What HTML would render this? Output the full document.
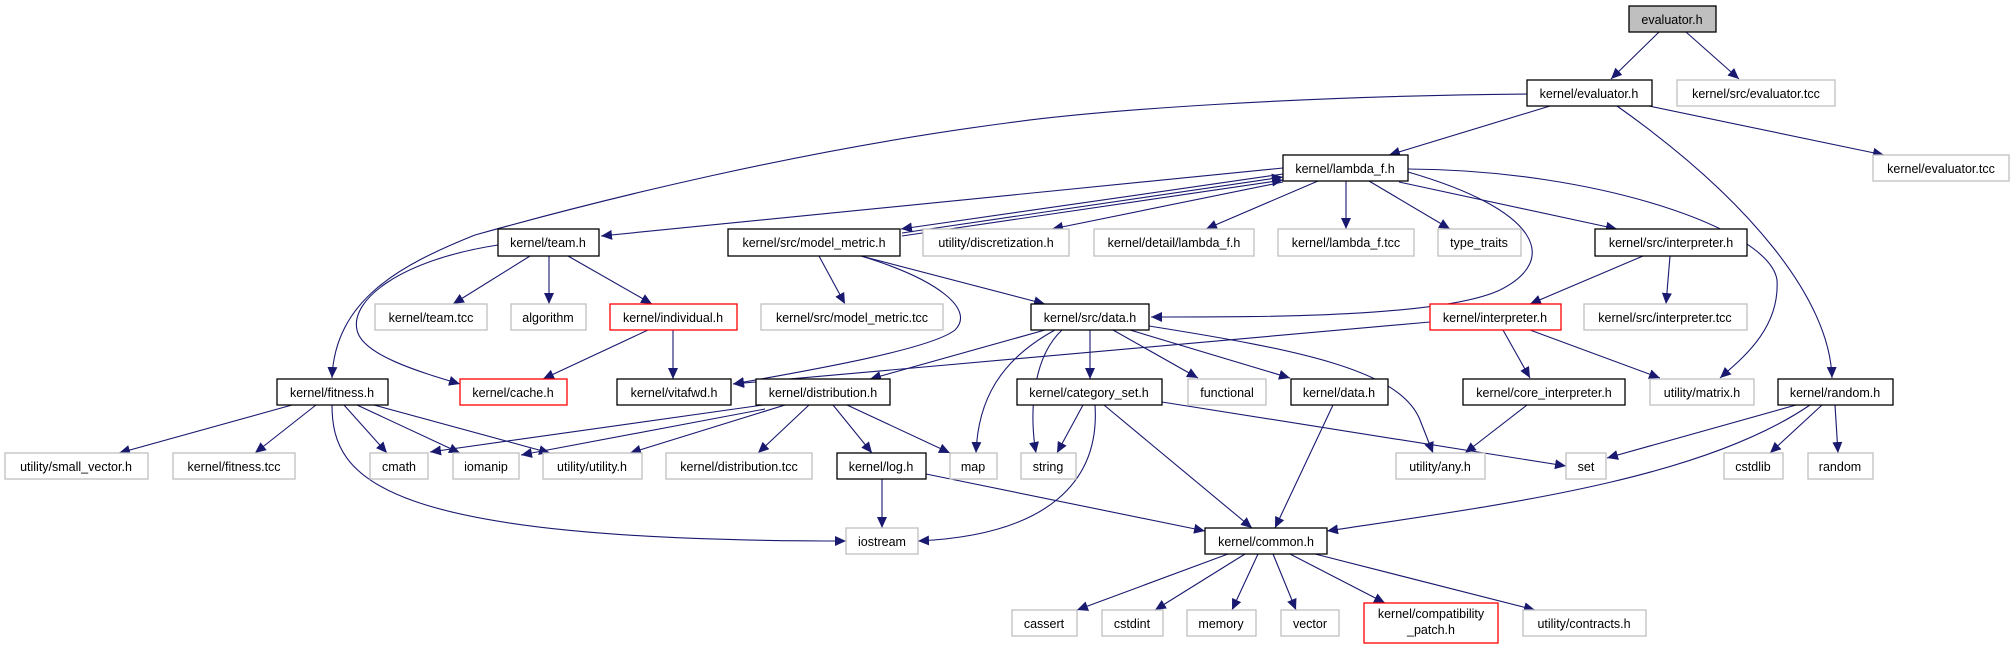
<!DOCTYPE html>
<html><head><meta charset="utf-8"><style>
html,body{margin:0;padding:0;background:#fff;}
svg{display:block;}
text{font-family:"Liberation Sans",sans-serif;font-size:12.5px;fill:#000;text-anchor:middle;}
.b{fill:#fff;stroke:#000;stroke-width:1.3;}
.g{fill:#fff;stroke:#bfbfbf;stroke-width:1.3;}
.r{fill:#fff;stroke:#ff0000;stroke-width:1.3;}
.e{fill:none;stroke:#191970;stroke-width:1.1;marker-end:url(#a);}
</style></head><body>
<svg width="2014" height="649" viewBox="0 0 2014 649" xmlns="http://www.w3.org/2000/svg">
<defs><marker id="a" markerUnits="userSpaceOnUse" markerWidth="12" markerHeight="10" refX="11" refY="5" orient="auto"><path d="M0,0 L11,5 L0,10 z" fill="#191970"/></marker></defs>

<path class="e" d="M1659,32 L1611,79"/>
<path class="e" d="M1686,32 L1739,79"/>
<path class="e" d="M1550,106 L1389,155"/>
<path class="e" d="M1649,106 L1884,155"/>
<path class="e" d="M1617,106 C1750,200 1830,300 1832,378"/>
<path class="e" d="M1527,94 C1300,96 1100,110 1007,123 C800,150 600,200 475,235 C400,265 335,300 332,378"/>
<path class="e" d="M1283,168 L601,236"/>
<path class="e" d="M1283,174 L901,229"/>
<path class="e" d="M902,233 L1283,177"/>
<path class="e" d="M902,236 L1283,180"/>
<path class="e" d="M1283,182 L1052,229"/>
<path class="e" d="M1318,181 L1206,229"/>
<path class="e" d="M1346,181 L1346,229"/>
<path class="e" d="M1369,181 L1450,229"/>
<path class="e" d="M1399,182 L1617,229"/>
<path class="e" d="M1408,172 C1540,210 1560,260 1500,290 C1440,318 1250,317 1151,317"/>
<path class="e" d="M1408,169 C1600,170 1770,230 1777,280 C1780,330 1740,360 1720,378"/>
<path class="e" d="M530,256 L453,304"/>
<path class="e" d="M549,256 L549,304"/>
<path class="e" d="M568,256 L652,304"/>
<path class="e" d="M498,245 C400,260 350,300 357,330 C362,355 420,372 460,384"/>
<path class="e" d="M648,330 L543,379"/>
<path class="e" d="M673,330 L673,379"/>
<path class="e" d="M819,256 L845,304"/>
<path class="e" d="M861,256 L1045,304"/>
<path class="e" d="M861,256 C940,280 975,310 955,330 C930,350 800,372 733,384"/>
<path class="e" d="M1643,256 L1530,304"/>
<path class="e" d="M1670,256 L1666,304"/>
<path class="e" d="M1045,330 L870,379"/>
<path class="e" d="M1055,330 C1000,360 978,400 976,453"/>
<path class="e" d="M1062,330 C1030,360 1030,420 1036,453"/>
<path class="e" d="M1090,330 L1090,379"/>
<path class="e" d="M1113,330 L1198,378"/>
<path class="e" d="M1130,330 L1290,378"/>
<path class="e" d="M1149,326 C1300,350 1400,370 1420,420 L1433,453"/>
<path class="e" d="M1430,322 L733,384"/>
<path class="e" d="M1503,330 L1530,378"/>
<path class="e" d="M1530,330 L1660,378"/>
<path class="e" d="M292,405 L119,453"/>
<path class="e" d="M316,405 L255,453"/>
<path class="e" d="M344,405 L387,453"/>
<path class="e" d="M357,405 L460,453"/>
<path class="e" d="M374,405 L550,453"/>
<path class="e" d="M332,405 C332,480 380,541 846,541"/>
<path class="e" d="M763,405 L430,452"/>
<path class="e" d="M765,409 L521,455"/>
<path class="e" d="M785,405 L630,453"/>
<path class="e" d="M809,405 L758,453"/>
<path class="e" d="M833,405 L872,453"/>
<path class="e" d="M847,405 L950,453"/>
<path class="e" d="M882,479 L882,528"/>
<path class="e" d="M926,474 L1205,531"/>
<path class="e" d="M1083,405 L1057,453"/>
<path class="e" d="M1095,405 C1100,480 1050,535 918,541"/>
<path class="e" d="M1104,405 L1252,528"/>
<path class="e" d="M1162,402 L1566,466"/>
<path class="e" d="M1333,405 L1275,528"/>
<path class="e" d="M1527,405 L1465,453"/>
<path class="e" d="M1796,405 L1607,458"/>
<path class="e" d="M1810,405 C1700,480 1500,505 1327,531"/>
<path class="e" d="M1822,405 L1770,453"/>
<path class="e" d="M1835,405 L1838,453"/>
<path class="e" d="M1228,554 L1077,610"/>
<path class="e" d="M1245,554 L1155,610"/>
<path class="e" d="M1258,554 L1232,610"/>
<path class="e" d="M1273,554 L1296,610"/>
<path class="e" d="M1290,554 L1385,603"/>
<path class="e" d="M1315,554 L1535,610"/>

<rect x="1629" y="6" width="87" height="26" fill="#bfbfbf" stroke="#000" stroke-width="1.3"/><text x="1672" y="24">evaluator.h</text>
<rect class="b" x="1527" y="80" width="125" height="26"/><text x="1589" y="98">kernel/evaluator.h</text>
<rect class="g" x="1677" y="80" width="158" height="26"/><text x="1756" y="98">kernel/src/evaluator.tcc</text>
<rect class="b" x="1283" y="155" width="125" height="26"/><text x="1345" y="173">kernel/lambda_f.h</text>
<rect class="g" x="1873" y="155" width="136" height="26"/><text x="1941" y="173">kernel/evaluator.tcc</text>

<rect class="b" x="498" y="229" width="101" height="27"/><text x="548" y="247">kernel/team.h</text>
<rect class="b" x="728" y="229" width="172" height="27"/><text x="814" y="247">kernel/src/model_metric.h</text>
<rect class="g" x="923" y="229" width="146" height="27"/><text x="996" y="247">utility/discretization.h</text>
<rect class="g" x="1094" y="229" width="160" height="27"/><text x="1174" y="247">kernel/detail/lambda_f.h</text>
<rect class="g" x="1278" y="229" width="136" height="27"/><text x="1346" y="247">kernel/lambda_f.tcc</text>
<rect class="g" x="1438" y="229" width="83" height="27"/><text x="1479" y="247">type_traits</text>
<rect class="b" x="1595" y="229" width="152" height="27"/><text x="1671" y="247">kernel/src/interpreter.h</text>

<rect class="g" x="375" y="304" width="112" height="26"/><text x="431" y="322">kernel/team.tcc</text>
<rect class="g" x="511" y="304" width="75" height="26"/><text x="548" y="322">algorithm</text>
<rect class="r" x="610" y="304" width="127" height="26"/><text x="673" y="322">kernel/individual.h</text>
<rect class="g" x="761" y="304" width="182" height="26"/><text x="852" y="322">kernel/src/model_metric.tcc</text>
<rect class="b" x="1031" y="304" width="118" height="26"/><text x="1090" y="322">kernel/src/data.h</text>
<rect class="r" x="1430" y="304" width="131" height="26"/><text x="1495" y="322">kernel/interpreter.h</text>
<rect class="g" x="1584" y="304" width="163" height="26"/><text x="1665" y="322">kernel/src/interpreter.tcc</text>

<rect class="b" x="277" y="379" width="111" height="26"/><text x="332" y="397">kernel/fitness.h</text>
<rect class="r" x="460" y="379" width="107" height="26"/><text x="513" y="397">kernel/cache.h</text>
<rect class="b" x="617" y="379" width="114" height="26"/><text x="674" y="397">kernel/vitafwd.h</text>
<rect class="b" x="756" y="379" width="134" height="26"/><text x="823" y="397">kernel/distribution.h</text>
<rect class="b" x="1017" y="379" width="145" height="26"/><text x="1089" y="397">kernel/category_set.h</text>
<rect class="g" x="1188" y="379" width="78" height="26"/><text x="1227" y="397">functional</text>
<rect class="b" x="1291" y="379" width="97" height="26"/><text x="1339" y="397">kernel/data.h</text>
<rect class="b" x="1463" y="379" width="162" height="26"/><text x="1544" y="397">kernel/core_interpreter.h</text>
<rect class="g" x="1650" y="379" width="104" height="26"/><text x="1702" y="397">utility/matrix.h</text>
<rect class="b" x="1778" y="379" width="115" height="26"/><text x="1835" y="397">kernel/random.h</text>

<rect class="g" x="5" y="453" width="143" height="26"/><text x="76" y="471">utility/small_vector.h</text>
<rect class="g" x="173" y="453" width="122" height="26"/><text x="234" y="471">kernel/fitness.tcc</text>
<rect class="g" x="370" y="453" width="58" height="26"/><text x="399" y="471">cmath</text>
<rect class="g" x="453" y="453" width="66" height="26"/><text x="486" y="471">iomanip</text>
<rect class="g" x="543" y="453" width="99" height="26"/><text x="592" y="471">utility/utility.h</text>
<rect class="g" x="666" y="453" width="146" height="26"/><text x="739" y="471">kernel/distribution.tcc</text>
<rect class="b" x="837" y="453" width="89" height="26"/><text x="881" y="471">kernel/log.h</text>
<rect class="g" x="950" y="453" width="47" height="26"/><text x="973" y="471">map</text>
<rect class="g" x="1021" y="453" width="55" height="26"/><text x="1048" y="471">string</text>
<rect class="g" x="1396" y="453" width="89" height="26"/><text x="1440" y="471">utility/any.h</text>
<rect class="g" x="1566" y="453" width="40" height="26"/><text x="1586" y="471">set</text>
<rect class="g" x="1724" y="453" width="59" height="26"/><text x="1753" y="471">cstdlib</text>
<rect class="g" x="1808" y="453" width="65" height="26"/><text x="1840" y="471">random</text>

<rect class="g" x="846" y="528" width="72" height="26"/><text x="882" y="546">iostream</text>
<rect class="b" x="1205" y="528" width="122" height="26"/><text x="1266" y="546">kernel/common.h</text>

<rect class="g" x="1012" y="610" width="65" height="26"/><text x="1044" y="628">cassert</text>
<rect class="g" x="1102" y="610" width="61" height="26"/><text x="1132" y="628">cstdint</text>
<rect class="g" x="1187" y="610" width="69" height="26"/><text x="1221" y="628">memory</text>
<rect class="g" x="1281" y="610" width="58" height="26"/><text x="1310" y="628">vector</text>
<rect class="r" x="1364" y="603" width="134" height="40"/><text x="1431" y="618">kernel/compatibility</text><text x="1431" y="634">_patch.h</text>
<rect class="g" x="1523" y="610" width="123" height="26"/><text x="1584" y="628">utility/contracts.h</text>
</svg>
</body></html>
